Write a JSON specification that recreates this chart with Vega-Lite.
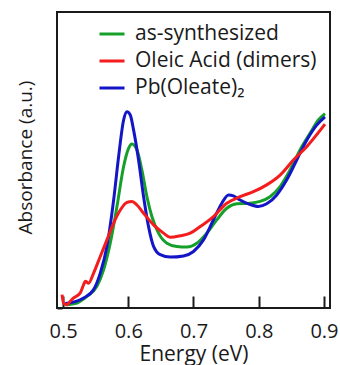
{
  "$schema": "https://vega.github.io/schema/vega-lite/v6.json",
  "autosize": "none",
  "width": 273,
  "height": 296,
  "padding": {"left": 57, "top": 12, "right": 10, "bottom": 57},
  "background": "white",
  "config": {
    "font": "Open Sans",
    "view": {"stroke": "#1a1a1a", "strokeWidth": 2},
    "axis": {"grid": false, "domain": false}
  },
  "data": {
    "values": [
      {"sample": "as-synthesized", "energy": 0.5036, "absorbance": 0.011},
      {"sample": "as-synthesized", "energy": 0.5214, "absorbance": 0.017},
      {"sample": "as-synthesized", "energy": 0.5367, "absorbance": 0.039},
      {"sample": "as-synthesized", "energy": 0.5520, "absorbance": 0.073},
      {"sample": "as-synthesized", "energy": 0.5622, "absorbance": 0.129},
      {"sample": "as-synthesized", "energy": 0.5724, "absorbance": 0.219},
      {"sample": "as-synthesized", "energy": 0.5827, "absorbance": 0.343},
      {"sample": "as-synthesized", "energy": 0.5929, "absorbance": 0.478},
      {"sample": "as-synthesized", "energy": 0.6005, "absorbance": 0.539},
      {"sample": "as-synthesized", "energy": 0.6056, "absorbance": 0.554},
      {"sample": "as-synthesized", "energy": 0.6133, "absorbance": 0.534},
      {"sample": "as-synthesized", "energy": 0.6209, "absorbance": 0.466},
      {"sample": "as-synthesized", "energy": 0.6286, "absorbance": 0.376},
      {"sample": "as-synthesized", "energy": 0.6362, "absorbance": 0.309},
      {"sample": "as-synthesized", "energy": 0.6464, "absorbance": 0.253},
      {"sample": "as-synthesized", "energy": 0.6592, "absorbance": 0.219},
      {"sample": "as-synthesized", "energy": 0.6745, "absorbance": 0.208},
      {"sample": "as-synthesized", "energy": 0.6898, "absorbance": 0.206},
      {"sample": "as-synthesized", "energy": 0.7051, "absorbance": 0.219},
      {"sample": "as-synthesized", "energy": 0.7204, "absorbance": 0.253},
      {"sample": "as-synthesized", "energy": 0.7357, "absorbance": 0.298},
      {"sample": "as-synthesized", "energy": 0.7510, "absorbance": 0.337},
      {"sample": "as-synthesized", "energy": 0.7663, "absorbance": 0.352},
      {"sample": "as-synthesized", "energy": 0.7867, "absorbance": 0.354},
      {"sample": "as-synthesized", "energy": 0.8020, "absorbance": 0.360},
      {"sample": "as-synthesized", "energy": 0.8173, "absorbance": 0.376},
      {"sample": "as-synthesized", "energy": 0.8327, "absorbance": 0.410},
      {"sample": "as-synthesized", "energy": 0.8480, "absorbance": 0.466},
      {"sample": "as-synthesized", "energy": 0.8633, "absorbance": 0.534},
      {"sample": "as-synthesized", "energy": 0.8786, "absorbance": 0.590},
      {"sample": "as-synthesized", "energy": 0.8913, "absorbance": 0.635},
      {"sample": "as-synthesized", "energy": 0.9015, "absorbance": 0.657},

      {"sample": "Pb(Oleate)₂", "energy": 0.5036, "absorbance": 0.015},
      {"sample": "Pb(Oleate)₂", "energy": 0.5316, "absorbance": 0.034},
      {"sample": "Pb(Oleate)₂", "energy": 0.5469, "absorbance": 0.062},
      {"sample": "Pb(Oleate)₂", "energy": 0.5571, "absorbance": 0.118},
      {"sample": "Pb(Oleate)₂", "energy": 0.5673, "absorbance": 0.208},
      {"sample": "Pb(Oleate)₂", "energy": 0.5776, "absorbance": 0.365},
      {"sample": "Pb(Oleate)₂", "energy": 0.5852, "absorbance": 0.511},
      {"sample": "Pb(Oleate)₂", "energy": 0.5929, "absorbance": 0.635},
      {"sample": "Pb(Oleate)₂", "energy": 0.5980, "absorbance": 0.663},
      {"sample": "Pb(Oleate)₂", "energy": 0.6031, "absorbance": 0.652},
      {"sample": "Pb(Oleate)₂", "energy": 0.6082, "absorbance": 0.601},
      {"sample": "Pb(Oleate)₂", "energy": 0.6158, "absorbance": 0.500},
      {"sample": "Pb(Oleate)₂", "energy": 0.6235, "absorbance": 0.376},
      {"sample": "Pb(Oleate)₂", "energy": 0.6311, "absorbance": 0.275},
      {"sample": "Pb(Oleate)₂", "energy": 0.6388, "absorbance": 0.208},
      {"sample": "Pb(Oleate)₂", "energy": 0.6490, "absorbance": 0.180},
      {"sample": "Pb(Oleate)₂", "energy": 0.6643, "absorbance": 0.172},
      {"sample": "Pb(Oleate)₂", "energy": 0.6847, "absorbance": 0.176},
      {"sample": "Pb(Oleate)₂", "energy": 0.7000, "absorbance": 0.191},
      {"sample": "Pb(Oleate)₂", "energy": 0.7153, "absorbance": 0.230},
      {"sample": "Pb(Oleate)₂", "energy": 0.7306, "absorbance": 0.298},
      {"sample": "Pb(Oleate)₂", "energy": 0.7434, "absorbance": 0.354},
      {"sample": "Pb(Oleate)₂", "energy": 0.7536, "absorbance": 0.382},
      {"sample": "Pb(Oleate)₂", "energy": 0.7612, "absorbance": 0.379},
      {"sample": "Pb(Oleate)₂", "energy": 0.7714, "absorbance": 0.365},
      {"sample": "Pb(Oleate)₂", "energy": 0.7842, "absorbance": 0.352},
      {"sample": "Pb(Oleate)₂", "energy": 0.7995, "absorbance": 0.343},
      {"sample": "Pb(Oleate)₂", "energy": 0.8122, "absorbance": 0.352},
      {"sample": "Pb(Oleate)₂", "energy": 0.8276, "absorbance": 0.382},
      {"sample": "Pb(Oleate)₂", "energy": 0.8429, "absorbance": 0.433},
      {"sample": "Pb(Oleate)₂", "energy": 0.8582, "absorbance": 0.500},
      {"sample": "Pb(Oleate)₂", "energy": 0.8735, "absorbance": 0.567},
      {"sample": "Pb(Oleate)₂", "energy": 0.8888, "absorbance": 0.618},
      {"sample": "Pb(Oleate)₂", "energy": 0.9015, "absorbance": 0.646},

      {"sample": "Oleic Acid (dimers)", "energy": 0.4985, "absorbance": 0.045},
      {"sample": "Oleic Acid (dimers)", "energy": 0.5010, "absorbance": 0.015},
      {"sample": "Oleic Acid (dimers)", "energy": 0.5061, "absorbance": 0.011},
      {"sample": "Oleic Acid (dimers)", "energy": 0.5112, "absorbance": 0.023},
      {"sample": "Oleic Acid (dimers)", "energy": 0.5163, "absorbance": 0.034},
      {"sample": "Oleic Acid (dimers)", "energy": 0.5265, "absorbance": 0.051},
      {"sample": "Oleic Acid (dimers)", "energy": 0.5316, "absorbance": 0.079},
      {"sample": "Oleic Acid (dimers)", "energy": 0.5342, "absorbance": 0.090},
      {"sample": "Oleic Acid (dimers)", "energy": 0.5393, "absorbance": 0.084},
      {"sample": "Oleic Acid (dimers)", "energy": 0.5469, "absorbance": 0.118},
      {"sample": "Oleic Acid (dimers)", "energy": 0.5571, "absorbance": 0.174},
      {"sample": "Oleic Acid (dimers)", "energy": 0.5673, "absorbance": 0.230},
      {"sample": "Oleic Acid (dimers)", "energy": 0.5776, "absorbance": 0.287},
      {"sample": "Oleic Acid (dimers)", "energy": 0.5878, "absorbance": 0.331},
      {"sample": "Oleic Acid (dimers)", "energy": 0.5980, "absorbance": 0.357},
      {"sample": "Oleic Acid (dimers)", "energy": 0.6056, "absorbance": 0.360},
      {"sample": "Oleic Acid (dimers)", "energy": 0.6133, "absorbance": 0.348},
      {"sample": "Oleic Acid (dimers)", "energy": 0.6235, "absorbance": 0.320},
      {"sample": "Oleic Acid (dimers)", "energy": 0.6388, "absorbance": 0.281},
      {"sample": "Oleic Acid (dimers)", "energy": 0.6541, "absorbance": 0.253},
      {"sample": "Oleic Acid (dimers)", "energy": 0.6643, "absorbance": 0.239},
      {"sample": "Oleic Acid (dimers)", "energy": 0.6796, "absorbance": 0.244},
      {"sample": "Oleic Acid (dimers)", "energy": 0.6949, "absorbance": 0.253},
      {"sample": "Oleic Acid (dimers)", "energy": 0.7102, "absorbance": 0.275},
      {"sample": "Oleic Acid (dimers)", "energy": 0.7306, "absorbance": 0.309},
      {"sample": "Oleic Acid (dimers)", "energy": 0.7510, "absorbance": 0.354},
      {"sample": "Oleic Acid (dimers)", "energy": 0.7714, "absorbance": 0.376},
      {"sample": "Oleic Acid (dimers)", "energy": 0.7918, "absorbance": 0.393},
      {"sample": "Oleic Acid (dimers)", "energy": 0.8122, "absorbance": 0.416},
      {"sample": "Oleic Acid (dimers)", "energy": 0.8327, "absorbance": 0.449},
      {"sample": "Oleic Acid (dimers)", "energy": 0.8531, "absorbance": 0.500},
      {"sample": "Oleic Acid (dimers)", "energy": 0.8735, "absorbance": 0.545},
      {"sample": "Oleic Acid (dimers)", "energy": 0.9015, "absorbance": 0.621}
    ]
  },
  "mark": {"type": "line", "strokeWidth": 3, "interpolate": "monotone", "clip": true},
  "encoding": {
    "x": {
      "field": "energy",
      "type": "quantitative",
      "scale": {"domain": [0.4908, 0.9092], "nice": false, "zero": false},
      "axis": {
        "title": "Energy (eV)",
        "values": [0.5, 0.6, 0.7, 0.8, 0.9],
        "format": ".1f",
        "tickSize": -12,
        "tickWidth": 2,
        "tickColor": "#1a1a1a",
        "labelFontSize": 20,
        "labelColor": "#1a1a1a",
        "labelPadding": 25,
        "labelFlush": false,
        "titleFontSize": 21,
        "titleFontWeight": "normal",
        "titleColor": "#1a1a1a",
        "titleBaseline": "alphabetic",
        "titleY": 52
      }
    },
    "y": {
      "field": "absorbance",
      "type": "quantitative",
      "scale": {"domain": [0, 1], "nice": false},
      "axis": {
        "title": "Absorbance (a.u.)",
        "values": [0],
        "labels": false,
        "tickSize": -5,
        "tickWidth": 2,
        "tickColor": "#1a1a1a",
        "titleFontSize": 19,
        "titleFontWeight": "normal",
        "titleColor": "#1a1a1a",
        "titlePadding": 21,
        "titleY": 145
      }
    },
    "color": {
      "field": "sample",
      "type": "nominal",
      "scale": {
        "domain": ["as-synthesized", "Oleic Acid (dimers)", "Pb(Oleate)₂"],
        "range": ["#16a02a", "#f41c1c", "#1515c8"]
      },
      "legend": {
        "title": null,
        "orient": "none",
        "legendX": 41,
        "legendY": 8,
        "symbolType": "stroke",
        "symbolSize": 625,
        "symbolStrokeWidth": 3,
        "labelFontSize": 21,
        "labelLimit": 400,
        "labelColor": "#1a1a1a",
        "labelOffset": 9,
        "rowPadding": 3
      }
    }
  }
}
